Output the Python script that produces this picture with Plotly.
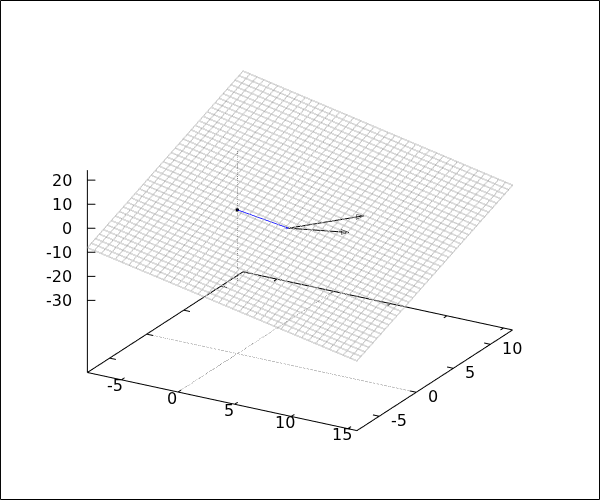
import numpy as np
import plotly.graph_objects as go

# Axis limits
x_range = [-8.0, 15.8]
y_range = [-8.0, 13.0]
z_range = [-32.0, 24.2]
floor_z = -60.0

x_ticks = [-5, 0, 5, 10, 15]
y_ticks = [-5, 0, 5, 10]
z_ticks = [-30, -20, -10, 0, 10, 20]

# Plane, from its four corners: rows follow y, columns follow x
plane_x = [-8.0, 15.8]
plane_y = [-8.0, 13.0]
plane_z = [[-8.3, -31.2], [23.3, 0.0]]
grid_lines = 40

# Point, blue segment, and two arrows
origin = [0.0, 0.0, -0.17]
foot = [3.8, 1.1, -6.14]
arrow_a = [7.95, 4.95, -4.43]
arrow_b = [7.92, 2.97, -7.46]

GREY = "#b8b8b8"
FONT = dict(family="DejaVu Sans", size=16, color="black")


def line_traces(pairs, color="black", dash="solid", width=2):
    out = []
    for a, b in pairs:
        out.append(go.Scatter3d(x=[a[0], b[0]], y=[a[1], b[1]], z=[a[2], b[2]], mode="lines", hoverinfo="skip",
                                line=dict(color=color, width=width, dash=dash), showlegend=False))
    return out


def head(tail, tip, length=0.6, half=1.0):
    t, p = np.array(tail), np.array(tip)
    d = p - t
    base = p - d / np.linalg.norm(d) * length
    up = np.array([0, 0, half])
    w1, w2 = (base + up).tolist(), (base - up).tolist()
    return [(tip, w1), (w1, w2), (w2, tip)]


xmin, xmax = x_range
ymin, ymax = y_range
zmin, zmax = z_range

fig = go.Figure()

# Wireframe plane; WebGL lines stay one pixel wide, so it is drawn twice,
# a fraction of a z unit apart, to reach the reference's line weight
xstep = (plane_x[1] - plane_x[0]) / (grid_lines - 1)
ystep = (plane_y[1] - plane_y[0]) / (grid_lines - 1)
for dz in (0.0, 0.4):
    fig.add_trace(go.Surface(
        x=plane_x, y=plane_y, z=(np.array(plane_z) + dz).tolist(), showscale=False, opacity=0.0, hoverinfo="skip",
        contours=dict(
            x=dict(show=True, start=plane_x[0], end=plane_x[1], size=xstep, color=GREY, width=2, highlight=False),
            y=dict(show=True, start=plane_y[0], end=plane_y[1], size=ystep, color=GREY, width=2, highlight=False),
            z=dict(show=False, highlight=False),
        ),
    ))

# Border and vertical axis
border = [
    ((xmin, ymin, floor_z), (xmax, ymin, floor_z)),
    ((xmax, ymin, floor_z), (xmax, ymax, floor_z)),
    ((xmax, ymax, floor_z), (xmin, ymax, floor_z)),
    ((xmin, ymax, floor_z), (xmin, ymin, floor_z)),
    ((xmin, ymin, floor_z), (xmin, ymin, zmax)),
]
ticks = []
XT, YT = 0.42, 0.55
for v in x_ticks:
    ticks.append(((v, ymin, floor_z), (v, ymin + XT, floor_z)))
    ticks.append(((v, ymax, floor_z), (v, ymax - XT, floor_z)))
for v in y_ticks:
    ticks.append(((xmax, v, floor_z), (xmax - YT, v, floor_z)))
    ticks.append(((xmin, v, floor_z), (xmin + YT, v, floor_z)))
for v in z_ticks:
    ticks.append(((xmin, ymin, v), (xmin + 0.708, ymin, v + 0.72)))
fig.add_traces(line_traces(border + ticks))

# Zero axes
fig.add_traces(line_traces([
    ((0, ymin, floor_z), (0, ymax, floor_z)),
    ((xmin, 0, floor_z), (xmax, 0, floor_z)),
    ((0, 0, zmin), (0, 0, zmax)),
], dash="dot", width=1))

# Blue segment, arrows
fig.add_traces(line_traces([(origin, foot)], color="blue", width=1.5))
fig.add_traces(line_traces(head(origin, foot, 0.35, 0.7), color="blue", width=1))
fig.add_traces(line_traces([(foot, arrow_a), (foot, arrow_b)], width=2))
fig.add_traces(line_traces(head(foot, arrow_a) + head(foot, arrow_b), width=1))
fig.add_trace(go.Scatter3d(x=[origin[0]], y=[origin[1]], z=[origin[2]], mode="markers", hoverinfo="skip",
                           marker=dict(color="black", size=2), showlegend=False))

ann = []
for v in x_ticks:
    ann.append(dict(x=v, y=ymin, z=floor_z, text=str(v), showarrow=False, xanchor="center", yanchor="middle",
                    xshift=-6, yshift=-6, font=FONT))
for v in y_ticks:
    ann.append(dict(x=xmax, y=v, z=floor_z, text=str(v), showarrow=False, xanchor="left", yanchor="middle",
                    xshift=10, yshift=-4, font=FONT))
for v in z_ticks:
    ann.append(dict(x=xmin, y=ymin, z=v, text=str(v), showarrow=False, xanchor="right", yanchor="middle",
                    xshift=-13, yshift=0, font=FONT))

hidden = dict(visible=False, showgrid=False, zeroline=False, showbackground=False, showspikes=False)
# Small pad so that nothing sits exactly on the clipping box of the scene
PAD = 1.02
SCALE = 1.245
def padded(lo, hi):
    m, h = (lo + hi) / 2, (hi - lo) / 2 * PAD
    return [m - h, m + h]

r = 2.0
EZ = 0.3735
EH = (1 - EZ ** 2) ** 0.5
fig.update_layout(
    width=600, height=500, margin=dict(l=0, r=0, t=0, b=0), paper_bgcolor="white",
    showlegend=False,
    shapes=[dict(type="rect", xref="paper", yref="paper", x0=0.0008, x1=0.9992, y0=0.001, y1=0.999,
                 line=dict(color="black", width=1))],
    scene=dict(
        domain=dict(x=[0, 1], y=[0, 1]),
        xaxis=dict(range=padded(xmin, xmax), **hidden),
        yaxis=dict(range=padded(ymin, ymax), **hidden),
        zaxis=dict(range=padded(floor_z, zmax), **hidden),
        aspectmode="manual",
        aspectratio=dict(x=SCALE * PAD, y=SCALE * PAD, z=0.751 * 0.9336 * SCALE * PAD),
        camera=dict(
            projection=dict(type="orthographic"),
            up=dict(x=0, y=0, z=1),
            center=dict(x=0, y=0, z=0),
            eye=dict(x=r * EH * 0.5, y=-r * EH * 0.866, z=r * EZ),
        ),
        annotations=ann,
    ),
)
fig.write_html("out.html", config={"displayModeBar": False}, post_script="document.body.style.margin='0';")
